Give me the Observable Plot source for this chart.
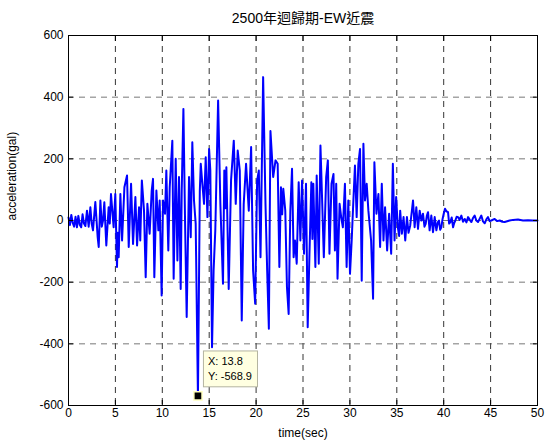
<!DOCTYPE html>
<html><head><meta charset="utf-8">
<script src="https://cdn.jsdelivr.net/npm/d3@7"></script>
<script src="https://cdn.jsdelivr.net/npm/@observablehq/plot@0.6"></script>
<style>
body{margin:0;background:#fff;}
#chart svg{display:block;}
</style>
</head><body><div id="chart"></div>
<script>
const title = "2500年迴歸期-EW近震";
const xLabel = "time(sec)";
const yLabel = "acceleration(gal)";
const xTicks = [0,5,10,15,20,25,30,35,40,45,50];
const yTicks = [-600,-400,-200,0,200,400,600];
const xGrid = [5,10,15,20,25,30,35,40,45];
const yGrid = [-400,-200,0,200,400];

const time = [
0,0.15,0.3,0.45,0.6,0.75,0.9,1.05,1.2,1.35,1.5,1.65,1.8,
1.97,2.15,2.33,2.47,2.61,2.86,3.11,3.22,3.4,3.55,3.68,3.82,
4.03,4.28,4.4,4.53,4.81,4.99,5.17,5.26,5.35,5.53,5.71,
5.96,6.24,6.42,6.67,6.88,7.13,7.31,7.52,7.65,7.82,
8.05,8.23,8.41,8.65,8.87,9.01,9.15,9.37,9.58,9.72,
9.93,10.08,10.29,10.43,10.64,10.79,11.07,11.21,11.43,11.61,
11.78,11.96,12.07,12.25,12.43,12.6,12.85,13.03,13.2,13.38,
13.56,13.8,14.0,14.1,14.27,14.45,14.63,14.81,14.99,15.12,
15.3,15.47,15.65,15.95,16.19,16.47,16.61,16.72,16.83,17.08,17.33,
17.62,17.83,18.04,18.26,18.47,18.68,18.93,19.22,19.47,19.68,
19.9,20.11,20.29,20.47,20.75,21.0,21.18,21.36,21.53,21.82,
22.07,22.3,22.48,22.65,22.78,22.9,23.11,23.29,23.47,23.65,23.83,
24.0,24.15,24.33,24.54,24.72,24.9,25.11,25.32,25.5,25.68,
25.89,26.0,26.1,26.32,26.46,26.68,26.86,27.04,27.22,27.47,
27.65,27.82,28.04,28.25,28.4,28.54,28.68,28.9,29.07,29.25,
29.47,29.65,29.83,30.01,30.19,30.37,30.54,30.72,30.9,31.08,
31.26,31.44,31.61,31.79,31.97,32.26,32.47,32.61,32.83,33.04,
33.22,33.4,33.58,33.75,33.97,34.18,34.4,34.58,34.76,34.93,
35.11,35.25,35.36,35.54,35.72,35.9,36.08,36.25,36.43,36.6,36.73,36.9,37.08,
37.26,37.44,37.62,37.79,37.95,38.08,38.2,38.33,38.5,38.68,38.86,39.04,
39.22,39.38,39.5,39.62,39.75,39.88,40.0,40.14,40.28,40.46,40.58,40.71,40.85,41.0,41.12,41.24,41.38,41.53,
41.7,41.88,42.06,42.24,42.42,42.6,42.78,42.95,43.12,43.3,43.48,43.66,43.84,44.01,44.19,44.37,44.55,44.72,44.9,45.08,
45.43,45.7,45.97,46.25,46.5,47.03,47.39,47.92,48.46,48.99,49.5,50
];
const accel = [
10,-15,18,-8,-20,12,-22,15,-14,-22,20,-10,-18,
32,-20,43,-10,-32,60,-54,-86,65,-20,0,59,
-81,43,-10,86,-22,86,-151,-40,-119,86,-65,
108,146,-86,119,-76,76,-81,43,-65,130,
32,-184,54,-43,97,135,-184,97,-32,65,
-243,65,22,162,-97,108,259,-189,200,-130,
141,-222,97,362,-11,-313,141,-54,254,65,
-11,-568.9,97,184,119,54,205,11,232,162,
-411,-162,-32,389,54,-205,162,40,173,-222,130,
259,54,227,162,-324,54,184,32,238,-162,
-270,130,162,-119,465,54,-162,-351,290,141,
195,184,-151,108,20,103,32,-216,-303,32,168,
-119,-65,-140,124,-65,130,-108,119,-346,-119,
124,-60,119,-151,146,-140,243,65,-119,141,
195,-108,119,151,-97,119,-189,54,11,-22,
119,-151,65,-173,-65,65,178,11,184,232,
-195,249,65,119,32,-65,-254,189,22,86,
-86,119,-65,43,-97,22,-108,184,-65,76,
-22,-50,32,-43,11,-65,11,-40,-16,30,65,-22,43,
-27,32,0,22,-20,-11,15,27,-32,16,-38,11,
-32,-5,0,-30,-22,5,22,38,30,27,-10,-5,10,-22,-8,0,12,11,
2,16,-4,5,-6,11,2,-5,8,16,0,-5,6,16,-3,-9,4,11,-2,0,
5,-2,0,-4,-5,0,2,3,0,1,0,0
];
const tipX = [13.8];
const tipY = [-568.9];
const tipLabel = ["X: 13.8\nY: -568.9"];

const n = Math.min(time.length, accel.length);
const series = d3.range(n).map(i => ({t: time[i], a: accel[i]}));
const tip = tipX.map((x, i) => ({x, y: tipY[i], label: tipLabel[i]}));

const font = "'Liberation Sans', Arial, 'Noto Sans CJK TC', sans-serif";
const fmt = d => String(d);

const chart = Plot.plot({
  width: 553,
  height: 444,
  marginLeft: 68,
  marginRight: 16,
  marginTop: 35,
  marginBottom: 39,
  style: {fontFamily: font, fontSize: "12px", color: "#000", background: "#fff"},
  x: {domain: [0, 50]},
  y: {domain: [-600, 600]},
  marks: [
    Plot.ruleX(xGrid, {stroke: "#000", strokeWidth: 0.8, strokeDasharray: "6,5"}),
    Plot.ruleY(yGrid, {stroke: "#555", strokeWidth: 0.8, strokeDasharray: "6,5"}),
    Plot.line(series, {x: "t", y: "a", stroke: "#0000ff", strokeWidth: 2, strokeLinejoin: "round"}),
    Plot.frame({stroke: "#000", strokeWidth: 1}),
    Plot.axisX(xTicks, {anchor: "bottom", tickSize: -5, tickPadding: 8, label: null, fontSize: 12, tickFormat: fmt}),
    Plot.axisX(xTicks, {anchor: "top", tickSize: -5, tickFormat: () => "", label: null}),
    Plot.axisY(yTicks, {anchor: "left", tickSize: -5, tickPadding: 10, label: null, fontSize: 12, tickFormat: fmt}),
    Plot.axisY(yTicks, {anchor: "right", tickSize: -5, tickFormat: () => "", label: null}),
    Plot.dot(tip, {x: "x", y: "y", symbol: "square", r: 4.6, fill: "#000", stroke: "#ffffc0", strokeWidth: 1.5}),
    Plot.text(tip, {x: "x", y: "y", text: "label", textAnchor: "start", lineAnchor: "top", dx: 10, dy: -41, fontSize: 11, lineHeight: 1.35, fill: "#000", ariaLabel: "datatip"}),
    Plot.text([title], {frameAnchor: "top", dy: -17, lineAnchor: "middle", fontSize: 14}),
    Plot.text([xLabel], {frameAnchor: "bottom", dy: 28, lineAnchor: "middle", fontSize: 12}),
    Plot.text([yLabel], {frameAnchor: "left", dx: -56, rotate: -90, lineAnchor: "middle", fontSize: 12})
  ]
});
document.getElementById("chart").appendChild(chart);

// data-tip box behind the label
const tipTexts = Array.from(chart.querySelectorAll("text")).filter(t => t.textContent.indexOf("X: 13.8") === 0);
tipTexts.forEach(t => {
  const b = t.getBBox();
  const r = document.createElementNS("http://www.w3.org/2000/svg", "rect");
  r.setAttribute("x", b.x - 4.5);
  r.setAttribute("y", b.y - 4.5);
  r.setAttribute("width", b.width + 10);
  r.setAttribute("height", b.height + 9);
  r.setAttribute("fill", "#ffffe1");
  r.setAttribute("stroke", "#b4b4a0");
  r.setAttribute("stroke-width", "1");
  const tr = t.getAttribute("transform");
  if (tr) r.setAttribute("transform", tr);
  t.parentNode.insertBefore(r, t);
});
</script>
</body></html>
